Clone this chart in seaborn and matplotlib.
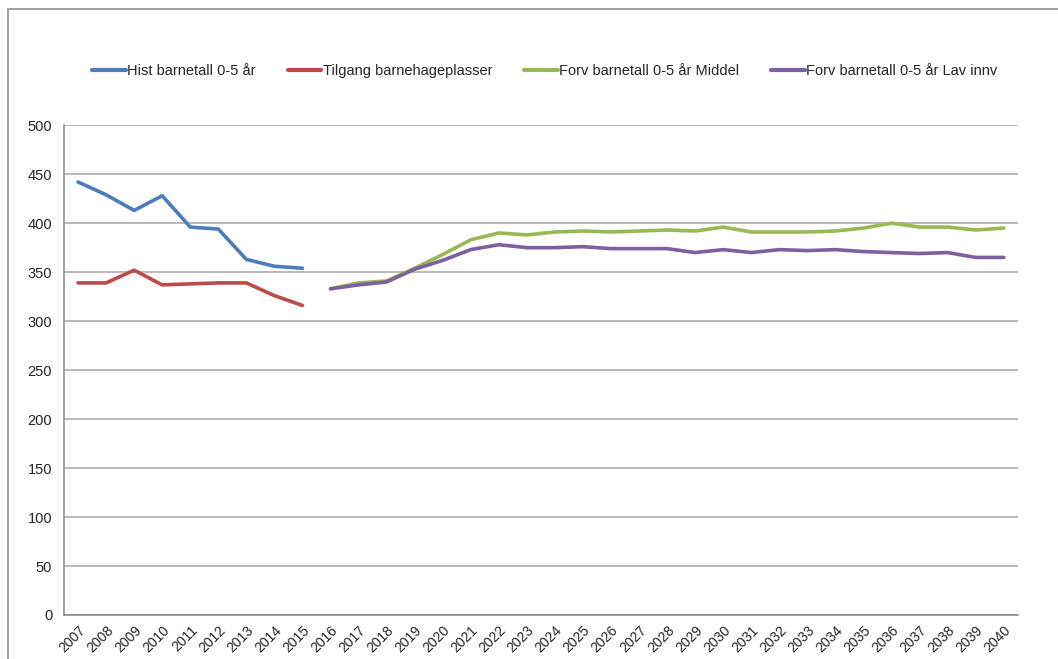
import pandas as pd
import matplotlib.pyplot as plt
import matplotlib.patches as mpatches
from matplotlib.ticker import MultipleLocator
import seaborn as sns

# Data
years = list(range(2007, 2041))
hist_years = list(range(2007, 2016))
hist = [442, 429, 413, 428, 396, 394, 363, 356, 354]
tilgang = [339, 339, 352, 337, 338, 339, 339, 326, 316]
forv_years = list(range(2016, 2041))
middel = [333, 339, 341, 354, 368, 383, 390, 388, 391, 392, 391, 392, 393, 392,
          396, 391, 391, 391, 392, 395, 400, 396, 396, 393, 395]
lav = [333, 337, 340, 353, 362, 373, 378, 375, 375, 376, 374, 374, 374, 370,
       373, 370, 373, 372, 373, 371, 370, 369, 370, 365, 365]

names = ["Hist barnetall 0-5 år", "Tilgang barnehageplasser",
         "Forv barnetall 0-5 år Middel", "Forv barnetall 0-5 år Lav innv"]
colors = ["#4A7EBB", "#BE4B48", "#98B954", "#7D60A0"]

df = pd.concat([
    pd.DataFrame({"år": hist_years, "verdi": hist, "serie": names[0]}),
    pd.DataFrame({"år": hist_years, "verdi": tilgang, "serie": names[1]}),
    pd.DataFrame({"år": forv_years, "verdi": middel, "serie": names[2]}),
    pd.DataFrame({"år": forv_years, "verdi": lav, "serie": names[3]}),
])

sns.set_style("white")
plt.rcParams["font.family"] = ["Liberation Sans", "DejaVu Sans"]

fig = plt.figure(figsize=(10.58, 6.59), dpi=100)
ax = fig.add_axes([0.0605, 0.0668, 0.9015, 0.7432])

sns.lineplot(data=df, x="år", y="verdi", hue="serie", hue_order=names,
             palette=colors, linewidth=2.6, ax=ax, legend=False)

# Axes styling
ax.set_xlim(2006.5, 2040.5)
ax.set_ylim(0, 500)
ax.yaxis.set_major_locator(MultipleLocator(50))
ax.set_xticks(years)
ax.set_xticklabels([str(y) for y in years], rotation=45, ha="right",
                   rotation_mode="anchor", fontsize=10)
ax.set_xticks([y + 0.5 for y in [2006] + years], minor=True)
ax.tick_params(axis="x", which="major", length=0, pad=6)
ax.tick_params(axis="x", which="minor", length=5, color="#888888", direction="out")
ax.tick_params(axis="y", length=5, color="#888888", direction="out", labelsize=10.5)
ax.set_xlabel("")
ax.set_ylabel("")
ax.grid(axis="y", color="#A6A6A6", linewidth=1.1)
ax.set_axisbelow(True)
for side in ["top", "right"]:
    ax.spines[side].set_visible(False)
for side in ["left", "bottom"]:
    ax.spines[side].set_color("#888888")
    ax.spines[side].set_linewidth(1.1)

# Legend
handles = [plt.Line2D([0], [0], color=c, linewidth=3) for c in colors]
fig.legend(handles, names, loc="center", bbox_to_anchor=(0.515, 0.892), ncol=4,
           frameon=False, fontsize=10.5, handlelength=2.3, handletextpad=0.1,
           columnspacing=2.2)

# Chart border
fig.patches.append(mpatches.Rectangle((0.0076, -0.02), 1.1, 1.0063, transform=fig.transFigure,
                                      fill=False, edgecolor="#A0A0A0", linewidth=1.4))

plt.savefig("out.png", dpi=100)
